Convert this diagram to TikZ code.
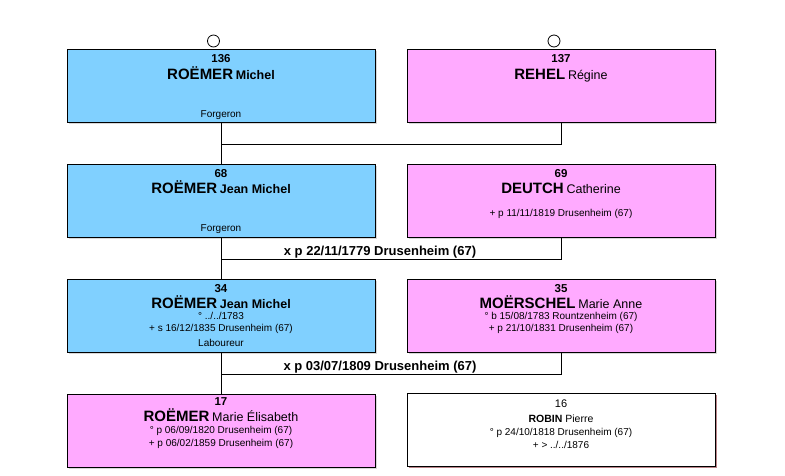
\documentclass[tikz,border=0pt]{standalone}
\usepackage{fontspec}
\setmainfont{Liberation Sans}
\usetikzlibrary{shadows}
\definecolor{boyblue}{RGB}{128,208,255}
\definecolor{girlpink}{RGB}{255,170,255}
\definecolor{shadowred}{RGB}{120,10,20}
\newcommand{\surn}[1]{{\fontsize{15}{15}\selectfont\bfseries #1}}
\newcommand{\givn}[1]{{\fontsize{12.5}{12.5}\selectfont #1}}
\newcommand{\givnb}[1]{{\fontsize{12.5}{12.5}\selectfont\bfseries #1}}
\begin{document}
\begin{tikzpicture}[x=1pt,y=-1pt,line width=1pt,
    every node/.append style={inner sep=0pt},
    pbox/.style={draw=black,minimum width=308pt,minimum height=73pt,
        drop shadow={shadow xshift=1.5pt,shadow yshift=-1.5pt,fill=black!30}},
    mbox/.style={pbox,fill=boyblue},
    fbox/.style={pbox,fill=girlpink},
    wbox/.style={draw=black,fill=white,minimum width=308pt,minimum height=73pt,
        drop shadow={shadow xshift=1.5pt,shadow yshift=-1.5pt,fill=shadowred}},
    num/.style={anchor=base,font=\fontsize{11.5}{11.5}\selectfont\bfseries},
    nam/.style={anchor=base},
    det/.style={anchor=base,font=\fontsize{10}{10}\selectfont},
    wed/.style={anchor=base,font=\fontsize{13}{13}\selectfont\bfseries},
    root/.style={circle,draw=black,line width=0.8pt,minimum size=12pt}]
  \useasboundingbox (0,0) rectangle (785,475);
  \node[mbox] (p136) at (221,85.5) {};
  \node[fbox] (p137) at (561,85.5) {};
  \node[mbox] (p68) at (221,200.5) {};
  \node[fbox] (p69) at (561,200.5) {};
  \node[mbox] (p34) at (221,316) {};
  \node[fbox] (p35) at (561,316) {};
  \node[fbox] (p17) at (221,430.5) {};
  \node[wbox] (p16) at (561,429.5) {};
  \node[root] (c136) at (213.5,41) {};
  \node[root] (c137) at (554,41) {};
  \node[num] (n136) at (221,62) {136};
  \node[nam] (s136) at (221,79) {\surn{ROËMER} \givnb{Michel}};
  \node[det] (o136) at (221,117) {Forgeron};
  \node[num] (n137) at (561,62) {137};
  \node[nam] (s137) at (561,79) {\surn{REHEL} \givn{Régine}};
  \node[num] (n68) at (221,177.5) {68};
  \node[nam] (s68) at (221,193.5) {\surn{ROËMER} \givnb{Jean Michel}};
  \node[det] (o68) at (221,231.5) {Forgeron};
  \node[num] (n69) at (561,177.5) {69};
  \node[nam] (s69) at (561,193.5) {\surn{DEUTCH} \givn{Catherine}};
  \node[det] (d69) at (561,216) {+ p 11/11/1819 Drusenheim (67)};
  \node[num] (n34) at (221,292.5) {34};
  \node[nam] (s34) at (221,308.5) {\surn{ROËMER} \givnb{Jean Michel}};
  \node[det] (b34) at (221,319.5) {° ../../1783};
  \node[det] (d34) at (221,331.5) {+ s 16/12/1835 Drusenheim (67)};
  \node[det] (o34) at (221,346) {Laboureur};
  \node[num] (n35) at (561,292.5) {35};
  \node[nam] (s35) at (561,308.5) {\surn{MOËRSCHEL} \givn{Marie Anne}};
  \node[det] (b35) at (561,319) {° b 15/08/1783 Rountzenheim (67)};
  \node[det] (d35) at (561,331) {+ p 21/10/1831 Drusenheim (67)};
  \node[num] (n17) at (221,405.5) {17};
  \node[nam] (s17) at (221,421.5) {\surn{ROËMER} \givn{Marie Élisabeth}};
  \node[det] (b17) at (221,433.5) {° p 06/09/1820 Drusenheim (67)};
  \node[det] (d17) at (221,446.5) {+ p 06/02/1859 Drusenheim (67)};
  \node[det,font=\fontsize{11}{11}\selectfont] (n16) at (561,407.5) {16};
  \node[det,font=\fontsize{10.5}{10.5}\selectfont] (s16) at (561,422.5) {\textbf{ROBIN} Pierre};
  \node[det] (b16) at (561,435) {° p 24/10/1818 Drusenheim (67)};
  \node[det] (d16) at (561,448) {+ > ../../1876};
  \coordinate (j1) at (221,144);
  \coordinate (j2) at (221,259);
  \coordinate (j3) at (221,374);
  \draw (p136.south) -- (p68.north);
  \draw (p137.south) |- (j1);
  \draw (p68.south) -- (p34.north);
  \draw (p69.south) |- (j2);
  \node[wed] (w1) at (380,255.5) {x p 22/11/1779 Drusenheim (67)};
  \draw (p34.south) -- (p17.north);
  \draw (p35.south) |- (j3);
  \node[wed] (w2) at (380,370.5) {x p 03/07/1809 Drusenheim (67)};
\end{tikzpicture}
\end{document}
